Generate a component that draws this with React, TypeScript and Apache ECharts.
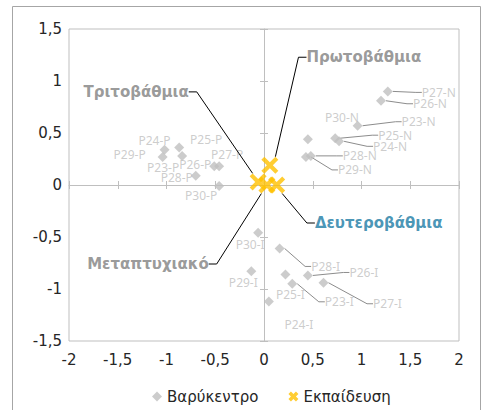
import React, { useEffect, useRef } from 'react';
import * as echarts from 'echarts';

// ---- data ----
const centroidNames = [
  'P23-P', 'P24-P', 'P25-P', 'P26-P', 'P27-P', 'P28-P', 'P29-P', 'P30-P',
  'P23-N', 'P24-N', 'P25-N', 'P26-N', 'P27-N', 'P28-N', 'P29-N', 'P30-N',
  'P23-I', 'P24-I', 'P25-I', 'P26-I', 'P27-I', 'P28-I', 'P29-I', 'P30-I',
];
const centroidX = [
  -0.84, -1.02, -0.87, -0.51, -0.46, -0.70, -1.04, -0.46,
  0.96, 0.77, 0.73, 1.20, 1.27, 0.48, 0.43, 0.45,
  0.29, 0.05, 0.22, 0.45, 0.61, 0.16, -0.13, -0.06,
];
const centroidY = [
  0.28, 0.34, 0.36, 0.18, 0.18, 0.09, 0.27, -0.01,
  0.57, 0.42, 0.45, 0.81, 0.90, 0.28, 0.27, 0.44,
  -0.95, -1.12, -0.86, -0.87, -0.94, -0.61, -0.83, -0.46,
];

const educationNames = ['Πρωτοβάθμια', 'Δευτεροβάθμια', 'Τριτοβάθμια', 'Μεταπτυχιακό'];
const educationX = [0.06, 0.13, -0.06, 0.03];
const educationY = [0.19, 0.0, 0.03, 0.0];

const seriesNames = ['Βαρύκεντρο', 'Εκπαίδευση'];
const axisMinX = -2;
const axisMaxX = 2;
const axisMinY = -1.5;
const axisMaxY = 1.5;
const axisStep = 0.5;

// ---- label placement (pixels, relative to the marker) ----
const centroidLabelPlacement: [number, number, boolean][] = [
  [-19, 12, false], [-10, -9, false], [27, -8, false], [-19, -2, false],
  [8, -12, false], [-19, 2, false], [-33, -2, false], [-18, 9, false],
  [61, -4, true], [51, 5, true], [60, -3, true], [49, 3, true],
  [51, 1, true], [49, 0, true], [49, 13, true], [34, -22, false],
  [47, 18, true], [30, 23, false], [5, 20, false], [56, -3, true],
  [64, 21, true], [46, 18, true], [-8, 11, false], [-8, 12, false],
];
const educationLabelPlacement: [number, number][] = [
  [94, -108], [102, 38], [-122, -90], [-119, 79],
];
const educationLabelColors = ['#7f7f7f', '#1b7aa3', '#7f7f7f', '#7f7f7f'];

const X_PATH =
  'path://M0,3.5 L3.5,0 L10,6.5 L16.5,0 L20,3.5 L13.5,10 L20,16.5 L16.5,20 L10,13.5 L3.5,20 L0,16.5 L6.5,10 Z';
const X_PATH_LEGEND =
  'path://M0,5 L5,0 L10,5 L15,0 L20,5 L15,10 L20,15 L15,20 L10,15 L5,20 L0,15 L5,10 Z';

const fmt = (v: number) => String(v).replace('.', ',');

export default function App() {
  const ref = useRef<HTMLDivElement>(null);
  useEffect(() => {
    if (!ref.current) return;
    const chart = echarts.init(ref.current, undefined, { renderer: 'svg' });

    const baseX = { type: 'value', min: axisMinX, max: axisMaxX, interval: axisStep };
    const baseY = { type: 'value', min: axisMinY, max: axisMaxY, interval: axisStep };
    const axisColor = '#bfbfbf';
    const tickFont = { fontFamily: 'DejaVu Sans', fontSize: 15, color: '#262626' };

    const centroidData = centroidNames.map((n, i) => ({
      name: n,
      value: [centroidX[i], centroidY[i]],
      labelLine: { show: centroidLabelPlacement[i][2] },
    }));
    const educationData = educationNames.map((n, i) => ({
      name: n,
      value: [educationX[i], educationY[i]],
      label: { color: educationLabelColors[i] },
    }));

    const option: any = {
      animation: false,
      graphic: [
        {
          type: 'rect',
          shape: { x: 12.5, y: 6.5, width: 468, height: 420 },
          style: { fill: 'none', stroke: '#a6a6a6', lineWidth: 1 },
          silent: true,
          z: -1,
        },
      ],
      grid: {
        left: 69, top: 29, right: 25, bottom: 69,
        show: true, borderColor: axisColor, borderWidth: 1,
      },
      xAxis: [
        {
          ...baseX, position: 'bottom',
          axisLine: { show: false, onZero: false },
          axisTick: { show: false }, splitLine: { show: false },
          axisLabel: { ...tickFont, margin: 11, formatter: fmt },
        },
        {
          ...baseX, position: 'bottom',
          axisLine: { show: true, onZero: true, onZeroAxisIndex: 0, lineStyle: { color: axisColor, width: 1 } },
          axisTick: { show: true, inside: false, length: 4, lineStyle: { color: axisColor } },
          axisLabel: { show: false }, splitLine: { show: false },
        },
        {
          ...baseX, position: 'bottom',
          axisLine: { show: false, onZero: true, onZeroAxisIndex: 0 },
          axisTick: { show: true, inside: true, length: 4, lineStyle: { color: axisColor } },
          axisLabel: { show: false }, splitLine: { show: false },
        },
      ],
      yAxis: [
        {
          ...baseY, position: 'left',
          axisLine: { show: false, onZero: false },
          axisTick: { show: false }, splitLine: { show: false },
          axisLabel: { ...tickFont, margin: 7, formatter: fmt },
        },
        {
          ...baseY, position: 'left',
          axisLine: { show: true, onZero: true, onZeroAxisIndex: 0, lineStyle: { color: axisColor, width: 1 } },
          axisTick: { show: true, inside: false, length: 4, lineStyle: { color: axisColor } },
          axisLabel: { show: false }, splitLine: { show: false },
        },
        {
          ...baseY, position: 'left',
          axisLine: { show: false, onZero: true, onZeroAxisIndex: 0 },
          axisTick: { show: true, inside: true, length: 4, lineStyle: { color: axisColor } },
          axisLabel: { show: false }, splitLine: { show: false },
        },
      ],
      legend: {
        data: [
          { name: seriesNames[0], icon: 'diamond' },
          { name: seriesNames[1], icon: X_PATH_LEGEND },
        ],
        left: 147,
        top: 384,
        itemGap: 30,
        itemWidth: 10,
        itemHeight: 10,
        textStyle: { fontFamily: 'DejaVu Sans', fontSize: 15, color: '#262626' },
      },
      series: [
        {
          name: seriesNames[0],
          type: 'scatter',
          xAxisIndex: 0,
          yAxisIndex: 0,
          symbol: 'diamond',
          symbolSize: 10,
          itemStyle: { color: '#bfbfbf' },
          data: centroidData,
          label: {
            show: true,
            position: 'inside',
            formatter: '{b}',
            color: '#bfbfbf',
            fontFamily: 'Noto Sans',
            fontSize: 12,
          },
          labelLayout: (p: any) => ({
            dx: centroidLabelPlacement[p.dataIndex][0],
            dy: centroidLabelPlacement[p.dataIndex][1],
          }),
          labelLine: { show: true, length2: 6, lineStyle: { color: '#8c8c8c', width: 1 } },
          z: 2,
        },
        {
          name: seriesNames[1],
          type: 'scatter',
          xAxisIndex: 0,
          yAxisIndex: 0,
          symbol: X_PATH,
          symbolSize: 17,
          itemStyle: { color: '#ffc000' },
          data: educationData,
          label: {
            show: true,
            position: 'inside',
            formatter: '{b}',
            fontFamily: 'DejaVu Sans',
            fontWeight: 'bold',
            fontSize: 15,
          },
          labelLayout: (p: any) => ({
            dx: educationLabelPlacement[p.dataIndex][0],
            dy: educationLabelPlacement[p.dataIndex][1],
          }),
          labelLine: { show: true, length2: 8, lineStyle: { color: '#000000', width: 1 } },
          z: 3,
        },
      ],
    };
    chart.setOption(option);
    return () => chart.dispose();
  }, []);

  return (
    <div
      ref={ref}
      style={{ position: 'absolute', left: 0, top: 0, width: 484, height: 410, background: '#ffffff' }}
    />
  );
}
